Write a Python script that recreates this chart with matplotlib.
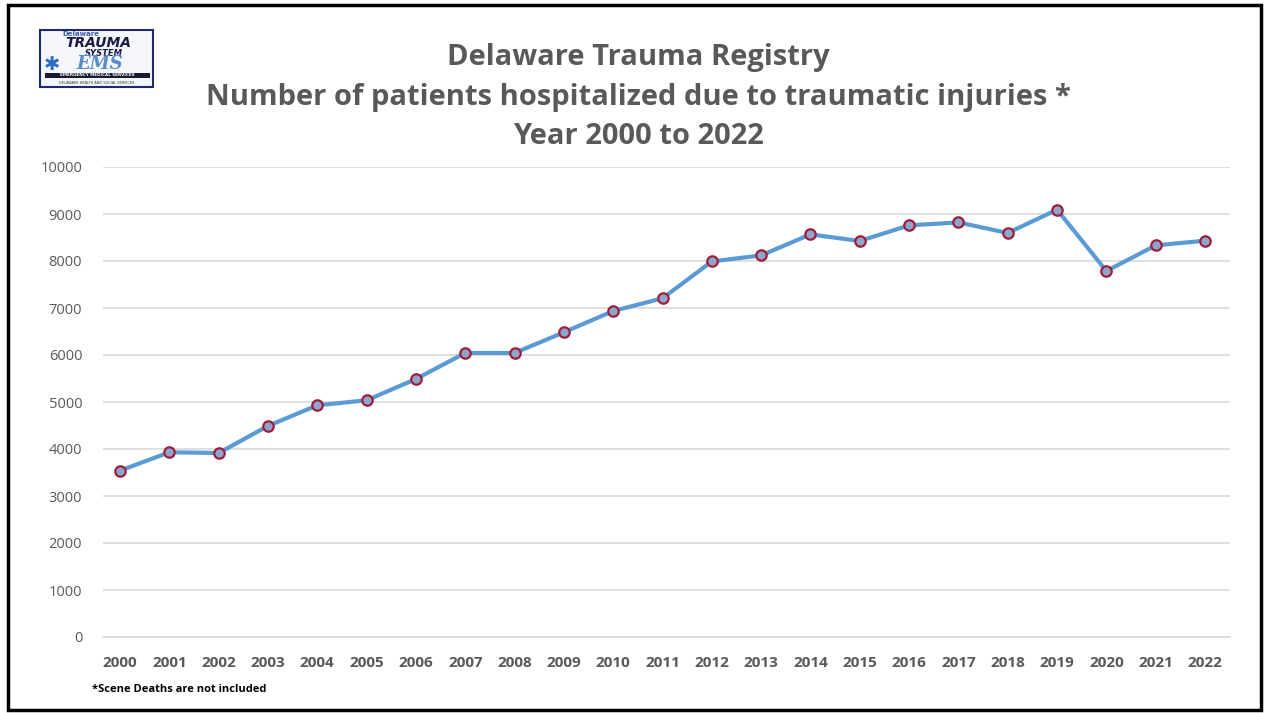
import matplotlib.pyplot as plt
from matplotlib.patches import Rectangle

# --- dane ---
years = [str(y) for y in range(2000, 2023)]
patients = [3540, 3930, 3915, 4490, 4930, 5036, 5489, 6043, 6043, 6483, 6936,
            7206, 7991, 8119, 8566, 8426, 8758, 8821, 8596, 9091, 7787, 8332, 8432]
y_ticks = list(range(0, 10001, 1000))

title_lines = ["Delaware Trauma Registry",
               "Number of patients hospitalized due to traumatic injuries *",
               "Year 2000 to 2022"]
footnote = "*Scene Deaths are not included"

W, H = 1265, 713
fig = plt.figure(figsize=(W / 100, H / 100), dpi=100)
fig.patch.set_facecolor("white")

# ramka wokół całego obrazka
fig.add_artist(Rectangle((8 / W, 3 / H), 1 - 12 / W, 1 - 8 / H, transform=fig.transFigure,
                         fill=False, edgecolor="black", linewidth=2.5))

gray = "#595959"
ax = fig.add_axes([103 / W, 1 - 637 / H, (1230 - 103) / W, (637 - 167) / H])
x = list(range(len(years)))
ax.plot(x, patients, color="#5B9BD5", linewidth=3, marker="o", markersize=7.5,
        markerfacecolor="#8FA6CC", markeredgecolor="#A01E3C", markeredgewidth=1.6, zorder=3)

ax.set_ylim(0, 10000)
ax.set_xlim(-17 / 49.32, 22 + 25 / 49.32)
ax.set_yticks(y_ticks)
ax.set_yticklabels([str(v) for v in y_ticks])
ax.set_xticks(x)
ax.set_xticklabels(years)
ax.grid(axis="y", color="#D9D9D9", linewidth=1.2)
ax.set_axisbelow(True)
for s in ["top", "right", "left"]:
    ax.spines[s].set_visible(False)
ax.spines["bottom"].set_color("#D9D9D9")
ax.spines["bottom"].set_linewidth(1.2)
ax.tick_params(axis="both", length=0)
ax.tick_params(axis="y", pad=15, labelsize=10.5, labelcolor=gray)
ax.tick_params(axis="x", pad=14, labelsize=11, labelcolor=gray)
for lbl in ax.get_xticklabels():
    lbl.set_fontweight("bold")
    lbl.set_fontfamily("Open Sans")
for lbl in ax.get_yticklabels():
    lbl.set_fontfamily("Open Sans")

# tytuł
for line, yp in zip(title_lines, [58, 97, 137]):
    fig.text(638 / W, 1 - yp / H, line, ha="center", va="center", fontsize=21,
             fontweight="bold", color=gray, family="Open Sans")

fig.text(92 / W, 1 - 690 / H, footnote, ha="left", va="center", fontsize=8,
         fontweight="bold", color="black", family="Open Sans")

# logo (uproszczone)
lx0, ly0, lx1, ly1 = 40, 30, 153, 87
fig.add_artist(Rectangle((lx0 / W, 1 - ly1 / H), (lx1 - lx0) / W, (ly1 - ly0) / H,
                         transform=fig.transFigure, facecolor="#F4F6FB",
                         edgecolor="#1F2A6B", linewidth=1.5))
fig.text(62 / W, 1 - 34 / H, "Delaware", fontsize=5, color="#3A5BA8",
         fontweight="bold", va="center", ha="left")
fig.text(98 / W, 1 - 43 / H, "TRAUMA", fontsize=10, color="#1A1A40",
         fontweight="bold", style="italic", va="center", ha="center")
fig.text(104 / W, 1 - 53 / H, "SYSTEM", fontsize=6, color="#1A1A40",
         fontweight="bold", style="italic", va="center", ha="center")
fig.text(100 / W, 1 - 64 / H, "EMS", fontsize=13, color="#5A8CC8",
         fontweight="bold", style="italic", family="DejaVu Serif", va="center", ha="center")
fig.text(52 / W, 1 - 64 / H, "✱", fontsize=14, color="#2F6FC0", va="center", ha="center")
fig.add_artist(Rectangle((45 / W, 1 - 78 / H), 105 / W, 5 / H, transform=fig.transFigure,
                         facecolor="#1A1A30", edgecolor="none"))
fig.text(97 / W, 1 - 75.5 / H, "EMERGENCY MEDICAL SERVICES", fontsize=3, color="white",
         fontweight="bold", va="center", ha="center")
fig.text(97 / W, 1 - 83 / H, "DELAWARE HEALTH AND SOCIAL SERVICES", fontsize=2.5,
         color="#333333", va="center", ha="center")

fig.savefig("out.png", dpi=100, facecolor="white")
